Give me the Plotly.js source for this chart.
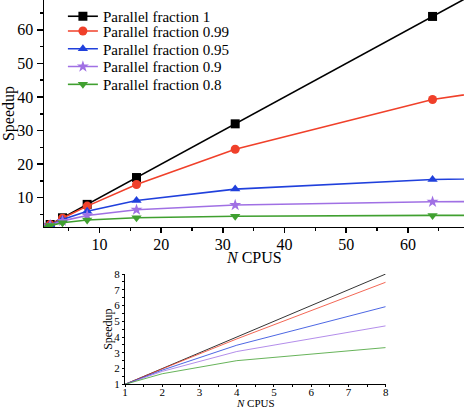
<!DOCTYPE html>
<html>
<head>
<meta charset="utf-8">
<script src="https://cdn.plot.ly/plotly-3.0.1.min.js"></script>
<style>
html,body{margin:0;padding:0;background:#fff}
#chart{width:464px;height:409px}
#chart text{font-family:"Liberation Serif","Times New Roman",Times,serif !important}
</style>
</head>
<body>
<div id="chart"></div>
<script>
const nCpus = [1, 2, 4, 8, 16, 32, 64, 128];
const insetCpus = [1, 2, 4, 8];
const seriesNames = ["Parallel fraction 1", "Parallel fraction 0.99", "Parallel fraction 0.95", "Parallel fraction 0.9", "Parallel fraction 0.8"];
const speedup1 = [1, 2, 4, 8, 16, 32, 64, 128];
const speedup099 = [1, 1.98, 3.88, 7.48, 13.91, 24.43, 39.26, 56.39];
const speedup095 = [1, 1.90, 3.48, 5.93, 9.14, 12.55, 15.42, 17.41];
const speedup09 = [1, 1.82, 3.08, 4.71, 6.40, 7.80, 8.77, 9.34];
const speedup08 = [1, 1.67, 2.50, 3.33, 4.00, 4.44, 4.71, 4.85];

const allSeries = [speedup1, speedup099, speedup095, speedup09, speedup08];
const colors = ["#000000", "#f0402a", "#2040dc", "#a070e4", "#40a030"];
const symbols = ["square", "circle", "triangle-up", "star", "triangle-down"];
const legendIds = ["legend", "legend2", "legend3", "legend4", "legend5"];
const legendTopY = [1.0, 0.9640, 0.9205, 0.8770, 0.8335];

const serif = "Liberation Serif";

const traces = [];
allSeries.forEach((s, i) => {
  traces.push({
    x: nCpus, y: s, name: seriesNames[i], type: "scatter", mode: "lines+markers",
    line: {color: colors[i], width: 1.6},
    marker: {symbol: symbols[i], size: 9, color: colors[i]},
    xaxis: "x", yaxis: "y", legend: legendIds[i]
  });
});
allSeries.forEach((s, i) => {
  traces.push({
    x: insetCpus, y: s.slice(0, 4), name: seriesNames[i], type: "scatter", mode: "lines",
    line: {color: colors[i], width: 0.8}, showlegend: false,
    xaxis: "x2", yaxis: "y2"
  });
});

const layout = {
  width: 464, height: 409,
  margin: {l: 44, r: 0, t: 0, b: 0},
  paper_bgcolor: "#fff", plot_bgcolor: "rgba(0,0,0,0)",
  font: {family: serif, color: "#000", size: 15},
  showlegend: true,
  xaxis: {
    domain: [0, 1], range: [1, 69.1], anchor: "y",
    showline: true, linecolor: "#000", linewidth: 1.5, mirror: false,
    showgrid: false, zeroline: false,
    ticks: "outside", ticklen: 5, tickwidth: 1.5, tickcolor: "#000",
    tickvals: [10, 20, 30, 40, 50, 60],
    minor: {ticks: "outside", ticklen: 3, tickwidth: 1.5, tickcolor: "#000", tickvals: [5, 15, 25, 35, 45, 55, 65]},
    tickfont: {family: serif, size: 16},
    ticklabelstandoff: -3
  },
  yaxis: {
    domain: [0.445, 1], range: [1.26, 68.9], anchor: "x",
    showline: true, linecolor: "#000", linewidth: 1.5,
    showgrid: false, zeroline: false,
    ticks: "outside", ticklen: 6, tickwidth: 1.5, tickcolor: "#000",
    tickvals: [10, 20, 30, 40, 50, 60],
    minor: {ticks: "outside", ticklen: 3, tickwidth: 1.5, tickcolor: "#000", tickvals: [5, 15, 25, 35, 45, 55, 65]},
    tickfont: {family: serif, size: 16},
    title: {text: "Speedup", font: {family: serif, size: 16}}
  },
  xaxis2: {
    domain: [0.1929, 0.8136], range: [1, 8], anchor: "y2",
    showline: true, linecolor: "#000", linewidth: 1, showgrid: false, zeroline: false,
    ticks: "outside", ticklen: 2, tickwidth: 1, tickcolor: "#000",
    tickvals: [1, 2, 3, 4, 5, 6, 7, 8],
    minor: {ticks: "outside", ticklen: 2, tickwidth: 1, tickcolor: "#000", tickvals: [1.5, 2.5, 3.5, 4.5, 5.5, 6.5, 7.5]},
    tickfont: {family: serif, size: 11},
    ticklabelstandoff: -4
  },
  yaxis2: {
    domain: [0.0604, 0.330], range: [1, 8], anchor: "x2",
    showline: true, linecolor: "#000", linewidth: 1, showgrid: false, zeroline: false,
    ticks: "outside", ticklen: 2, tickwidth: 1, tickcolor: "#000",
    tickvals: [1, 2, 3, 4, 5, 6, 7, 8],
    minor: {ticks: "outside", ticklen: 2, tickwidth: 1, tickcolor: "#000", tickvals: [1.5, 2.5, 3.5, 4.5, 5.5, 6.5, 7.5]},
    tickfont: {family: serif, size: 11}
  },
  annotations: [
    {
      text: "<i>N</i> CPUS", xref: "paper", yref: "paper",
      x: 0.5, y: 0.3692, xanchor: "center", yanchor: "middle",
      showarrow: false, font: {family: serif, size: 16}
    },
    {
      text: "<i>N</i> CPUS", xref: "paper", yref: "paper",
      x: 0.5032, y: 0.0147, xanchor: "center", yanchor: "middle",
      showarrow: false, font: {family: serif, size: 11}
    },
    {
      text: "Speedup", xref: "paper", yref: "paper",
      x: 0.152, y: 0.1956, xanchor: "center", yanchor: "middle", textangle: -90,
      showarrow: false, font: {family: serif, size: 12}
    }
  ]
};
legendIds.forEach((id, i) => {
  layout[id] = {x: 0.045, y: legendTopY[i], xanchor: "left", yanchor: "top",
    bgcolor: "rgba(0,0,0,0)", font: {family: serif, size: 15, color: "#000"}};
});
Plotly.newPlot("chart", traces, layout, {displayModeBar: false, staticPlot: true});
</script>
</body>
</html>
